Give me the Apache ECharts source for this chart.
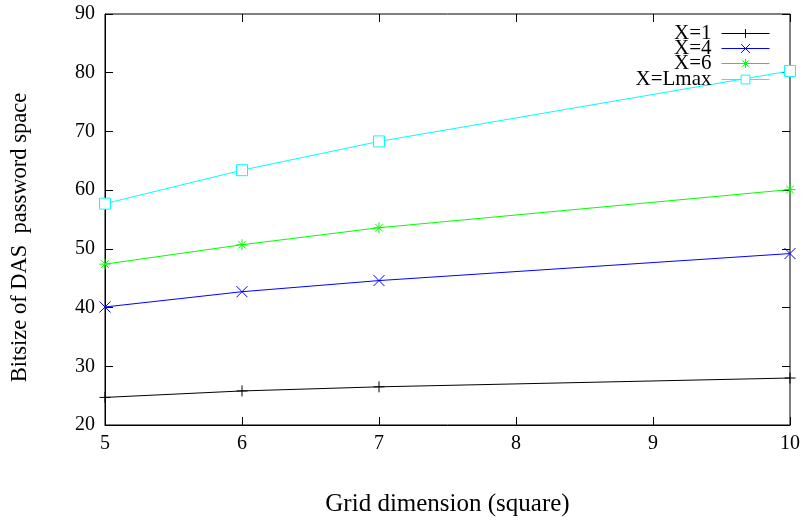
<!DOCTYPE html>
<html>
<head>
<meta charset="utf-8">
<script src="https://cdn.jsdelivr.net/npm/echarts@6/dist/echarts.min.js"></script>
<style>
html, body { margin: 0; padding: 0; background: #fff; }
#chart { width: 806px; height: 525px; }
</style>
</head>
<body>
<div id="chart"></div>
<script>
// grid dimension (x) and bitsize per X setting
var gridDim = [5, 6, 7, 10];
var x1 = [24.7, 25.8, 26.5, 28.0];
var x4 = [40.1, 42.7, 44.6, 49.2];
var x6 = [47.4, 50.7, 53.6, 60.1];
var xLmax = [57.7, 63.4, 68.3, 80.3];
var names = ['X=1', 'X=4', 'X=6', 'X=Lmax'];
var colors = ['#000000', '#0000ff', '#00ff00', '#00ffff'];
// gnuplot-like point types: plus, cross, star, open box
var symbols = [
    'path://M0,5L10,5M5,0L5,10',
    'path://M0,0L10,10M10,0L0,10',
    'path://M0,5L10,5M5,0L5,10M1.5,1.5L8.5,8.5M8.5,1.5L1.5,8.5',
    'path://M0,0L10,0L10,10L0,10Z'
];
var fills = ['none', 'none', 'none', '#fff'];
var values = [x1, x4, x6, xLmax];
var legendCenters = [33, 48, 63, 79];

var myChart = echarts.init(document.getElementById('chart'));
var font = '"Liberation Serif", "DejaVu Serif", serif';

function pairs(arr) {
    return gridDim.map(function (d, i) { return [d, arr[i]]; });
}

var series = names.map(function (n, i) {
    return {
        name: n,
        type: 'line',
        data: pairs(values[i]),
        symbol: symbols[i],
        symbolSize: 11,
        showAllSymbol: true,
        clip: false,
        lineStyle: { color: colors[i], width: 1 },
        itemStyle: { color: fills[i], borderColor: colors[i], borderWidth: 1 },
        emphasis: { disabled: true },
        animation: false
    };
});

var legends = names.map(function (n, i) {
    return {
        data: [n],
        right: 36,
        top: legendCenters[i] - 10,
        padding: 0,
        align: 'right',
        itemWidth: 48,
        itemHeight: 11,
        lineStyle: { width: 1 },
        itemStyle: { borderWidth: 1 },
        textStyle: { fontFamily: font, fontSize: 21, color: '#000', lineHeight: 20, padding: [0, 5, 0, 0] },
        selectedMode: false
    };
});

var option = {
    backgroundColor: '#fff',
    animation: false,
    legend: legends,
    grid: {
        left: 105, right: 16, top: 14, bottom: 100,
        outerBoundsMode: 'none',
        show: true, borderColor: '#000', borderWidth: 1
    },
    xAxis: [{
        type: 'value', min: 5, max: 10, interval: 1,
        name: 'Grid dimension (square)', nameLocation: 'middle', nameGap: 67,
        nameTextStyle: { fontFamily: font, fontSize: 25, color: '#000' },
        axisLine: { show: true, lineStyle: { color: '#000' } },
        axisTick: { inside: true, length: 8, lineStyle: { color: '#000' } },
        axisLabel: { fontFamily: font, fontSize: 20, color: '#000', margin: 9 },
        splitLine: { show: false }
    }, {
        type: 'value', min: 5, max: 10, interval: 1, position: 'top',
        axisLine: { show: false },
        axisTick: { inside: true, length: 8, lineStyle: { color: '#000' } },
        axisLabel: { show: false },
        splitLine: { show: false }
    }],
    yAxis: [{
        type: 'value', min: 20, max: 90, interval: 10,
        name: 'Bitsize of DAS  password space', nameLocation: 'middle', nameGap: 73,
        nameTextStyle: { fontFamily: font, fontSize: 22.5, color: '#000', padding: [0, 36, 0, 0] },
        axisLine: { show: true, lineStyle: { color: '#000' } },
        axisTick: { inside: true, length: 8, lineStyle: { color: '#000' } },
        axisLabel: { fontFamily: font, fontSize: 20, color: '#000', margin: 10 },
        splitLine: { show: false }
    }, {
        type: 'value', min: 20, max: 90, interval: 10, position: 'right',
        axisLine: { show: false },
        axisTick: { inside: true, length: 8, lineStyle: { color: '#000' } },
        axisLabel: { show: false },
        splitLine: { show: false }
    }],
    series: series
};

myChart.setOption(option);
</script>
</body>
</html>
